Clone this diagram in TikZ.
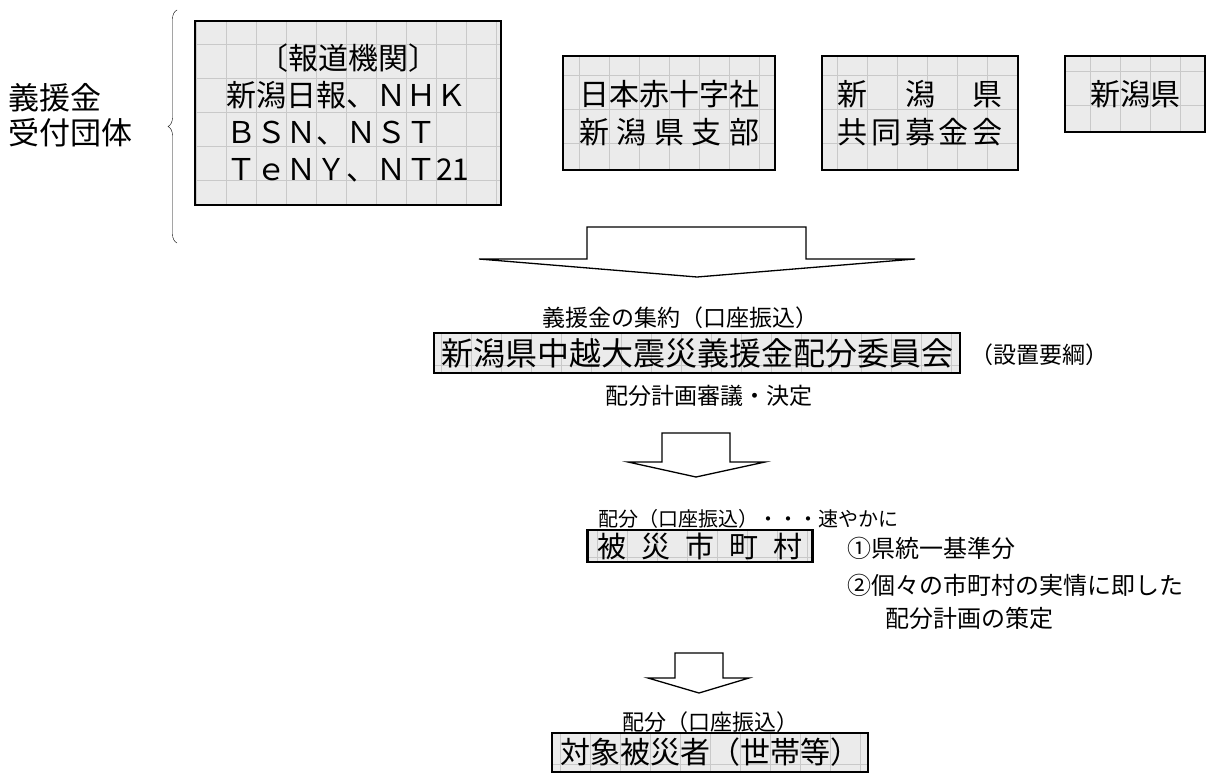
\documentclass[tikz,border=0pt]{standalone}
\usepackage{fontspec}
\setmainfont{Noto Sans CJK JP}
\usepackage{tikz}
\usetikzlibrary{decorations.pathreplacing}

\colorlet{boxgray}{gray!16}
\colorlet{gridgray}{gray!42}
\newcommand\spreadtxt[2]{\makebox[#1][s]{#2}}
\newcommand\fs[2]{\fontsize{#1}{#2}\selectfont}

\begin{document}
\begin{tikzpicture}[x=1pt, y=-1pt, semithick, inner sep=0pt,
  gridded/.style={path picture={\draw[gridgray, very thin] (path picture bounding box.south west) grid[xstep=30pt, ystep=34pt] (path picture bounding box.north east);}},
  srcbox/.style={draw, line width=1.6pt, fill=boxgray, gridded, align=center},
  flowbox/.style={draw, line width=2.2pt, fill=boxgray, gridded},
  note/.style={font=\fs{23}{26}},
  fatarrow/.style={draw, line width=1.3pt, fill=white, line join=miter}]

  \useasboundingbox (0,0) rectangle (1209,774);

  % receiving bodies
  \node[anchor=west, font=\fs{31}{36}] (gi) at (8,98) {義援金};
  \node[anchor=west, font=\fs{31}{36}] (uke) at (8,133) {受付団体};
  \coordinate (brtop) at (177,10);
  \coordinate (brbot) at (177,243);
  \draw[thin, decorate, decoration={brace, amplitude=9pt}] (brbot) -- (brtop);

  \node[srcbox, minimum width=306pt, minimum height=184pt, align=left, font=\fs{30}{37}] (b1) at (348,113)
    {\makebox[244pt]{〔報道機関〕}\\新潟日報、ＮＨＫ\\ＢＳＮ、ＮＳＴ\\ＴｅＮＹ、ＮＴ21};
  \node[srcbox, minimum width=212pt, minimum height=114pt, font=\fs{30}{38}] (b2) at (669,113)
    {日本赤十字社\\\spreadtxt{180pt}{新\hfil 潟\hfil 県\hfil 支\hfil 部}};
  \node[srcbox, minimum width=196pt, minimum height=114pt, font=\fs{30}{38}] (b3) at (920,113)
    {\spreadtxt{165pt}{新\hfil 潟\hfil 県}\\\spreadtxt{165pt}{共\hfil 同\hfil 募\hfil 金\hfil 会}};
  \node[srcbox, minimum width=140pt, minimum height=76pt, font=\fs{30}{34}] (b4) at (1135,94) {新潟県};

  % big arrow down to the committee
  \draw[fatarrow] (587,259) -- (587,227) -- (806,227) -- (806,259) -- (915,259) -- (697,277) -- (479,259) -- cycle;

  \node[note, anchor=west] (shuyaku) at (542,318) {義援金の集約（口座振込）};
  \node[flowbox, minimum width=526pt, minimum height=40pt, font=\fs{32}{34}] (iinkai) at (697,353) {新潟県中越大震災義援金配分委員会};
  \node[note, anchor=west] (yoko) at (970,355) {（設置要綱）};
  \node[note, anchor=west] (shingi) at (605,396) {配分計画審議・決定};

  \draw[fatarrow] (662,462) -- (662,433) -- (730,433) -- (730,462) -- (765,462) -- (696,477) -- (628,462) -- cycle;

  \node[anchor=west, font=\fs{20}{24}] (haibun1) at (598,519) {配分（口座振込）・・・速やかに};
  \node[flowbox, minimum width=225pt, minimum height=32pt, font=\fs{29}{30}] (shichoson) at (700,546)
    {\spreadtxt{205pt}{被\hfil 災\hfil 市\hfil 町\hfil 村}};
  \node[anchor=west, font=\fs{24}{26}] (kijun) at (847,548) {①県統一基準分};
  \node[anchor=west, font=\fs{24}{26}] (jijo) at (847,585) {②個々の市町村の実情に即した};
  \node[anchor=west, font=\fs{24}{26}] (sakutei) at (885,618) {配分計画の策定};

  \draw[fatarrow] (675,678) -- (675,653) -- (723,653) -- (723,678) -- (749,678) -- (699,693) -- (648,678) -- cycle;

  \node[font=\fs{22}{26}] (haibun2) at (710,722) {配分（口座振込）};
  \node[flowbox, minimum width=316pt, minimum height=39pt, font=\fs{30}{32}] (taisho) at (710,752.5) {対象被災者（世帯等）};
\end{tikzpicture}
\end{document}
